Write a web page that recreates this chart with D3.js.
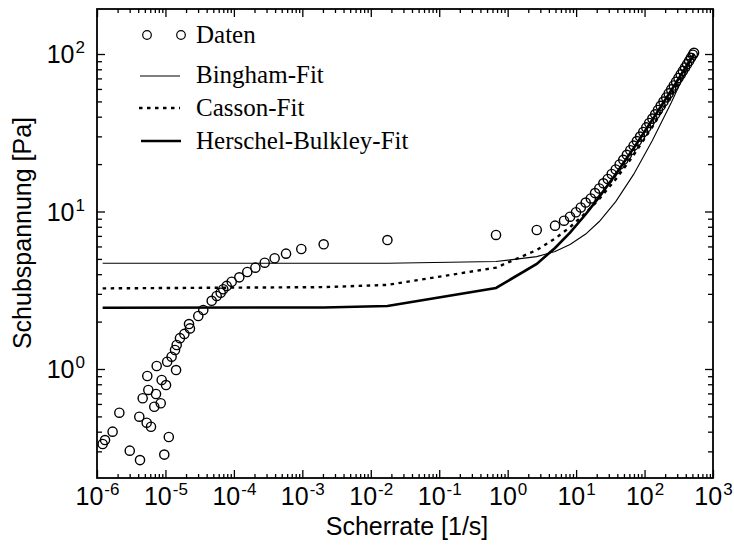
<!DOCTYPE html>
<html><head><meta charset="utf-8">
<script src="https://cdn.jsdelivr.net/npm/d3@7"></script>
<style>
html,body{margin:0;padding:0;background:#fff;}
svg{display:block;}
</style></head>
<body>
<script>
// ---- data ----
const shearRate = [1.21e-6,1.31e-6,1.69e-6,2.12e-6,3.01e-6,4.15e-6,4.25e-6,4.65e-6,5.32e-6,5.43e-6,5.62e-6,6.15e-6,6.87e-6,7.28e-6,7.45e-6,8.53e-6,8.81e-6,9.62e-6,1.02e-5,1.06e-5,1.12e-5,1.23e-5,1.38e-5,1.43e-5,1.46e-5,1.63e-5,1.89e-5,2.21e-5,2.28e-5,3.02e-5,3.57e-5,4.74e-5,5.61e-5,6.41e-5,7.00e-5,7.85e-5,9.29e-5,1.20e-4,1.57e-4,2.06e-4,2.82e-4,3.94e-4,5.78e-4,9.66e-4,2.05e-3,1.75e-2,0.676,2.66,4.92,6.66,8.15,9.97,11.7,13.8,16.4,18.9,21.8,25.0,29.0,33.1,37.9,43.2,48.9,55.1,61.8,69.2,77.3,86.1,95.7,106,117,130,143,157,172,189,207,225,245,267,289,313,337,363,390,418,447,476,507,528];
const shearStress = [0.334,0.354,0.400,0.528,0.303,0.498,0.264,0.652,0.456,0.903,0.736,0.430,0.576,0.694,1.045,0.606,0.852,0.286,0.791,1.112,0.370,1.197,1.32,0.985,1.42,1.57,1.67,1.93,1.81,2.17,2.37,2.71,2.91,3.05,3.21,3.37,3.58,3.82,4.13,4.40,4.73,5.05,5.40,5.78,6.19,6.59,7.10,7.63,8.13,8.74,9.27,9.89,10.6,11.4,12.1,13.1,14.0,15.1,16.1,17.3,18.5,19.9,21.3,22.9,24.5,26.2,28.0,29.9,32.0,34.2,36.5,38.9,41.4,44.1,46.9,49.9,53.0,56.2,59.6,63.1,66.7,70.4,74.2,78.1,82.1,86.2,90.4,94.6,98.9,101.8];

const fitRate    = [1.21e-6,2.05e-3,1.75e-2,0.676,2.66,4.92,8.15,13.8,21.8,37.9,69.2,130,245,528];
const bingham    = [4.69,4.69,4.69,4.81,5.17,5.58,6.17,7.19,8.64,11.55,17.2,28.2,49.0,100.3];
const casson     = [3.25,3.31,3.42,4.40,5.69,6.73,7.96,9.79,12.03,16.0,22.8,34.5,54.6,100.0];
const herschel   = [2.45,2.46,2.51,3.27,4.65,5.87,7.35,9.61,12.39,17.22,25.2,38.2,58.7,100.1];

const xTickExp = [-6,-5,-4,-3,-2,-1,0,1,2,3];
const yTickExp = [0,1,2];
const legendLabels = ["Daten","Bingham-Fit","Casson-Fit","Herschel-Bulkley-Fit"];
const xTitle = "Scherrate [1/s]";
const yTitle = "Schubspannung [Pa]";

// ---- layout ----
const W = 734, H = 549;
const L = 97, R = 713, T = 9, B = 478;
const svg = d3.select("body").append("svg").attr("width",W).attr("height",H);

const x = d3.scaleLog().domain([1e-6,1e3]).range([L,R]);
const y = d3.scaleLog().domain([0.2032,193.1]).range([B,T]);

// minor ticks
const xMinor = [];
for (let e=-6;e<3;e++) for (let k=2;k<=9;k++) xMinor.push(k*Math.pow(10,e));
const yMinor = [];
for (let e=-1;e<3;e++) for (let k=2;k<=9;k++){const v=k*Math.pow(10,e); if(v>0.2032&&v<193.1) yMinor.push(v);}
const xMajor = xTickExp.map(e=>Math.pow(10,e));
const yMajor = yTickExp.map(e=>Math.pow(10,e));

function styleAxis(g){ g.select(".domain").remove(); g.selectAll("text").remove(); g.selectAll("line").attr("stroke","#000").attr("stroke-width",1.3); }
svg.append("g").attr("transform",`translate(0,${B})`).call(d3.axisBottom(x).tickValues(xMajor).tickSize(-8)).call(styleAxis);
svg.append("g").attr("transform",`translate(0,${B})`).call(d3.axisBottom(x).tickValues(xMinor).tickSize(-4)).call(styleAxis);
svg.append("g").attr("transform",`translate(0,${T})`).call(d3.axisTop(x).tickValues(xMajor).tickSize(-8)).call(styleAxis);
svg.append("g").attr("transform",`translate(0,${T})`).call(d3.axisTop(x).tickValues(xMinor).tickSize(-4)).call(styleAxis);
svg.append("g").attr("transform",`translate(${L},0)`).call(d3.axisLeft(y).tickValues(yMajor).tickSize(-8)).call(styleAxis);
svg.append("g").attr("transform",`translate(${L},0)`).call(d3.axisLeft(y).tickValues(yMinor).tickSize(-5)).call(styleAxis);
svg.append("g").attr("transform",`translate(${R},0)`).call(d3.axisRight(y).tickValues(yMajor).tickSize(-8)).call(styleAxis);
svg.append("g").attr("transform",`translate(${R},0)`).call(d3.axisRight(y).tickValues(yMinor).tickSize(-5)).call(styleAxis);

// frame
svg.append("rect").attr("x",L).attr("y",T).attr("width",R-L).attr("height",B-T)
  .attr("fill","none").attr("stroke","#000").attr("stroke-width",1.8);

// tick labels: base "10" and exponent as separate texts
const sans = "'Liberation Sans', Arial, sans-serif";
const baseFs = 25, expFs = 17;
function powerLabel(cx, baseY, e, anchor){
  const g = svg.append("g");
  const b = g.append("text").attr("y",baseY).attr("font-family",sans).attr("font-size",baseFs).text("10");
  const s = g.append("text").attr("y",baseY-10).attr("font-family",sans).attr("font-size",expFs).text(String(e));
  const wb = b.node().getComputedTextLength(), ws = s.node().getComputedTextLength();
  let x0 = anchor==="middle" ? cx - (wb+ws)/2 : cx - (wb+ws);
  b.attr("x",x0); s.attr("x",x0+wb+1);
}
xTickExp.forEach(e=>powerLabel(x(Math.pow(10,e)), 505, e, "middle"));
yTickExp.forEach(e=>powerLabel(84, y(Math.pow(10,e))+9, e, "end"));

// axis titles
svg.append("text").attr("x",(L+R)/2+2).attr("y",535).attr("text-anchor","middle")
  .attr("font-family",sans).attr("font-size",25).text(xTitle);
svg.append("text").attr("transform",`translate(31,${233}) rotate(-90)`).attr("text-anchor","middle")
  .attr("font-family",sans).attr("font-size",25).text(yTitle);

// clip
svg.append("clipPath").attr("id","clip").append("rect").attr("x",L).attr("y",T).attr("width",R-L).attr("height",B-T);
const plot = svg.append("g").attr("clip-path","url(#clip)");

const line = d3.line().x(d=>x(d[0])).y(d=>y(d[1]));
const fitData = (vals)=>fitRate.map((r,i)=>[r,vals[i]]);

plot.append("path").datum(fitData(bingham)).attr("d",line).attr("fill","none").attr("stroke","#000").attr("stroke-width",1.1);
plot.append("path").datum(fitData(casson)).attr("d",line).attr("fill","none").attr("stroke","#000").attr("stroke-width",2.4).attr("stroke-dasharray","3.5,4.5");
plot.append("path").datum(fitData(herschel)).attr("d",line).attr("fill","none").attr("stroke","#000").attr("stroke-width",2.6);

plot.selectAll("circle.d").data(shearRate.map((r,i)=>[r,shearStress[i]])).enter().append("circle")
  .attr("cx",d=>x(d[0])).attr("cy",d=>y(d[1])).attr("r",4.6)
  .attr("fill","none").attr("stroke","#000").attr("stroke-width",1.4);

// legend
const serif = "'Liberation Serif', 'Times New Roman', serif";
const lg = svg.append("g");
lg.append("circle").attr("cx",147).attr("cy",35).attr("r",4.3).attr("fill","none").attr("stroke","#000").attr("stroke-width",1.2);
lg.append("circle").attr("cx",181).attr("cy",35).attr("r",4.3).attr("fill","none").attr("stroke","#000").attr("stroke-width",1.2);
lg.append("line").attr("x1",140).attr("x2",180).attr("y1",76).attr("y2",76).attr("stroke","#000").attr("stroke-width",1.1);
lg.append("line").attr("x1",139).attr("x2",180).attr("y1",108).attr("y2",108).attr("stroke","#000").attr("stroke-width",2.4).attr("stroke-dasharray","3.5,4.5");
lg.append("line").attr("x1",141).attr("x2",181).attr("y1",141).attr("y2",141).attr("stroke","#000").attr("stroke-width",2.6);
const ly = [42.5,82.5,116,149];
legendLabels.forEach((s,i)=>{
  lg.append("text").attr("x",196).attr("y",ly[i]).attr("font-family",serif).attr("font-size",25).text(s);
});
</script>
</body></html>
